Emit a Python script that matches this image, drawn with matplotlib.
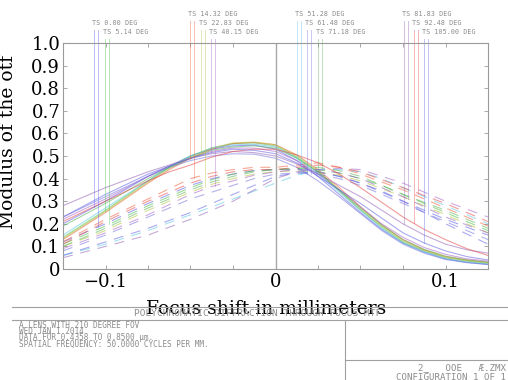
import numpy as np
import matplotlib
matplotlib.use("Agg")
import matplotlib.pyplot as plt
from matplotlib.lines import Line2D

# focus shift samples (mm)
focus = [-0.125, -0.1125, -0.1, -0.0875, -0.075, -0.0625, -0.05, -0.0375, -0.025, -0.0125,
         0.0, 0.0125, 0.025, 0.0375, 0.05, 0.0625, 0.075, 0.0875, 0.1, 0.1125, 0.125]

fields = ["0.00", "5.14", "14.32", "22.83", "40.15", "51.28",
          "61.48", "71.18", "81.83", "92.48", "105.00"]

colors = ["#5a5ae6", "#4cbf4c", "#f0603a", "#b4c43c", "#a864c8", "#5cc8e4",
          "#7474dc", "#5cb45c", "#9464b8", "#e44848", "#6464e6"]

# tangential (solid)
mtf_t = [
    [0.20, 0.25, 0.30, 0.355, 0.41, 0.455, 0.50, 0.53, 0.545, 0.548, 0.53, 0.48, 0.41, 0.33, 0.25, 0.175, 0.115, 0.075, 0.045, 0.03, 0.02],
    [0.14, 0.20, 0.26, 0.325, 0.39, 0.45, 0.50, 0.535, 0.555, 0.558, 0.545, 0.495, 0.43, 0.345, 0.26, 0.185, 0.12, 0.08, 0.05, 0.035, 0.025],
    [0.13, 0.19, 0.25, 0.315, 0.38, 0.44, 0.49, 0.53, 0.555, 0.56, 0.55, 0.505, 0.44, 0.36, 0.275, 0.195, 0.13, 0.085, 0.055, 0.04, 0.03],
    [0.135, 0.195, 0.255, 0.32, 0.385, 0.445, 0.495, 0.535, 0.558, 0.562, 0.55, 0.50, 0.435, 0.35, 0.265, 0.19, 0.125, 0.083, 0.053, 0.038, 0.028],
    [0.22, 0.265, 0.31, 0.36, 0.41, 0.455, 0.49, 0.52, 0.535, 0.535, 0.52, 0.48, 0.42, 0.35, 0.275, 0.20, 0.14, 0.095, 0.065, 0.045, 0.035],
    [0.15, 0.21, 0.27, 0.33, 0.39, 0.45, 0.50, 0.535, 0.55, 0.552, 0.54, 0.49, 0.42, 0.34, 0.26, 0.18, 0.115, 0.075, 0.045, 0.03, 0.022],
    [0.23, 0.275, 0.32, 0.365, 0.41, 0.45, 0.48, 0.50, 0.51, 0.508, 0.49, 0.45, 0.39, 0.32, 0.245, 0.17, 0.11, 0.07, 0.042, 0.028, 0.02],
    [0.19, 0.24, 0.29, 0.345, 0.40, 0.45, 0.49, 0.525, 0.54, 0.545, 0.535, 0.49, 0.43, 0.35, 0.27, 0.195, 0.13, 0.087, 0.057, 0.04, 0.03],
    [0.28, 0.32, 0.36, 0.395, 0.43, 0.46, 0.49, 0.51, 0.52, 0.515, 0.50, 0.465, 0.42, 0.37, 0.32, 0.26, 0.20, 0.15, 0.11, 0.085, 0.07],
    [0.21, 0.255, 0.30, 0.345, 0.39, 0.43, 0.46, 0.495, 0.52, 0.53, 0.53, 0.505, 0.47, 0.42, 0.36, 0.295, 0.23, 0.175, 0.13, 0.09, 0.06],
    [0.23, 0.28, 0.33, 0.375, 0.42, 0.455, 0.49, 0.515, 0.53, 0.525, 0.51, 0.47, 0.41, 0.35, 0.29, 0.225, 0.16, 0.115, 0.08, 0.055, 0.04],
]

# sagittal (dashed)
mtf_s = [
    [0.12, 0.16, 0.20, 0.245, 0.29, 0.33, 0.37, 0.40, 0.42, 0.435, 0.44, 0.44, 0.43, 0.41, 0.38, 0.345, 0.30, 0.26, 0.22, 0.185, 0.15],
    [0.11, 0.15, 0.19, 0.235, 0.28, 0.32, 0.36, 0.395, 0.42, 0.435, 0.44, 0.445, 0.44, 0.425, 0.40, 0.37, 0.33, 0.29, 0.25, 0.21, 0.17],
    [0.12, 0.17, 0.22, 0.265, 0.31, 0.355, 0.40, 0.425, 0.44, 0.45, 0.45, 0.46, 0.47, 0.45, 0.42, 0.385, 0.35, 0.31, 0.27, 0.23, 0.19],
    [0.10, 0.135, 0.17, 0.215, 0.26, 0.30, 0.34, 0.375, 0.40, 0.42, 0.43, 0.435, 0.43, 0.415, 0.39, 0.355, 0.32, 0.28, 0.24, 0.20, 0.16],
    [0.09, 0.125, 0.16, 0.20, 0.24, 0.285, 0.33, 0.365, 0.39, 0.415, 0.43, 0.44, 0.44, 0.445, 0.44, 0.41, 0.38, 0.34, 0.30, 0.265, 0.23],
    [0.06, 0.085, 0.11, 0.14, 0.17, 0.205, 0.24, 0.275, 0.31, 0.345, 0.38, 0.415, 0.44, 0.44, 0.43, 0.40, 0.36, 0.32, 0.28, 0.24, 0.20],
    [0.08, 0.115, 0.15, 0.19, 0.23, 0.27, 0.31, 0.34, 0.37, 0.40, 0.42, 0.425, 0.42, 0.40, 0.37, 0.33, 0.29, 0.25, 0.21, 0.17, 0.13],
    [0.10, 0.14, 0.18, 0.225, 0.27, 0.31, 0.35, 0.385, 0.41, 0.43, 0.44, 0.445, 0.45, 0.435, 0.41, 0.37, 0.33, 0.295, 0.26, 0.22, 0.18],
    [0.05, 0.075, 0.10, 0.125, 0.15, 0.185, 0.22, 0.26, 0.30, 0.35, 0.40, 0.43, 0.44, 0.425, 0.40, 0.36, 0.32, 0.275, 0.23, 0.195, 0.16],
    [0.11, 0.16, 0.21, 0.255, 0.30, 0.34, 0.38, 0.41, 0.43, 0.44, 0.44, 0.45, 0.46, 0.45, 0.43, 0.395, 0.36, 0.325, 0.29, 0.25, 0.21],
    [0.06, 0.09, 0.12, 0.15, 0.18, 0.215, 0.25, 0.29, 0.33, 0.37, 0.41, 0.425, 0.43, 0.41, 0.38, 0.34, 0.30, 0.25, 0.20, 0.155, 0.11],
]

ytick_vals = [0, 0.1, 0.2, 0.3, 0.4, 0.5, 0.6, 0.7, 0.8, 0.9, 1.0]
ytick_labels = ["0", "0.1", "0.2", "0.3", "0.4", "0.5", "0.6", "0.7", "0.8", "0.9", "1.0"]
xtick_vals = [-0.1, 0.0, 0.1]
xtick_labels = ["\u22120.1", "0", "0.1"]

info_lines = ["A LENS WITH 210 DEGREE FOV",
              "WED JAN 1 2014",
              "DATA FOR 0.4358 TO 0.8500 \u00b5m.",
              "SPATIAL FREQUENCY: 50.0000 CYCLES PER MM."]

W, H = 508, 380
GRAY = "#8c8c8c"
MONO = "DejaVu Sans Mono"

# legend label layout (pixel x, row)
label_px = [92, 103, 188, 199, 209, 295, 305, 316, 402, 412, 422]
label_row = [1, 2, 0, 1, 2, 0, 1, 2, 0, 1, 2]


def fx(px):
    return px / W


def fy(py):
    return 1 - py / H


def main():
    fig = plt.figure(figsize=(W / 100, H / 100), dpi=100)
    ax = fig.add_axes([fx(63), fy(269), (488 - 63) / W, (269 - 43) / H])
    ax.set_xlim(-0.125, 0.125)
    ax.set_ylim(0, 1.0)

    for i in range(len(fields)):
        ax.plot(focus, mtf_t[i], color=colors[i], lw=0.8, alpha=0.55)
        ax.plot(focus, mtf_s[i], color=colors[i], lw=0.8, alpha=0.55,
                linestyle=(0, (9, 7)))

    ax.axvline(0, color="#a8a8a8", lw=1.0)

    # field legend: labels above the plot, with T and S marker lines
    inv = ax.transData.inverted()
    for i, name in enumerate(fields):
        ty = 14 + 9 * label_row[i]
        fig.text(fx(label_px[i]), fy(ty), "TS " + name + " DEG", family=MONO,
                 fontsize=4.9, color=GRAY, ha="left", va="center")
        top = inv.transform(fig.transFigure.transform((0, fy(ty + 7))))[1]
        for dx, curve in ((2, mtf_t[i]), (6, mtf_s[i])):
            xd = inv.transform(fig.transFigure.transform((fx(label_px[i] + dx), 0)))[0]
            bottom = np.interp(xd, focus, curve)
            ax.plot([xd, xd], [bottom, top], color=colors[i], lw=0.7,
                    alpha=0.4, clip_on=False)

    for s in ax.spines.values():
        s.set_color("#9a9a9a")
        s.set_linewidth(0.8)

    ax.set_yticks(ytick_vals)
    ax.set_yticklabels(ytick_labels)
    ax.set_xticks(xtick_vals)
    ax.set_xticklabels(xtick_labels)
    ax.set_xticks(np.arange(-0.1, 0.11, 0.025), minor=True)
    ax.tick_params(which="both", direction="in", top=True, right=True,
                   color="#9a9a9a", length=3, width=0.6)
    ax.tick_params(axis="y", labelsize=13, pad=2)
    ax.tick_params(axis="x", labelsize=13, pad=3)
    for lab in ax.get_xticklabels() + ax.get_yticklabels():
        lab.set_family("DejaVu Serif")

    ax.set_ylabel("Modulus of the otf", family="DejaVu Serif", fontsize=13.5)
    ax.yaxis.set_label_coords(-0.108, 0.56)
    ax.set_xlabel("Focus shift in millimeters", family="DejaVu Serif", fontsize=13.5)
    ax.xaxis.set_label_coords(0.479, -0.135)

    # bottom info panel
    lc = "#a0a0a0"
    fig.add_artist(Line2D([fx(12), 1], [fy(307), fy(307)], color=lc, lw=0.8))
    fig.add_artist(Line2D([fx(12), 1], [fy(320), fy(320)], color=lc, lw=0.8))
    fig.add_artist(Line2D([fx(345), fx(345)], [fy(320), 0], color=lc, lw=0.8))
    fig.add_artist(Line2D([fx(345), 1], [fy(360), fy(360)], color=lc, lw=0.8))

    fig.text(fx(258), fy(314), "POLYCHROMATIC DIFFRACTION THROUGH FOCUS MTF",
             family=MONO, fontsize=6.8, color=GRAY, ha="center", va="center")
    for k, line in enumerate(info_lines):
        fig.text(fx(19), fy(326 + 6.0 * k), line, family=MONO, fontsize=5.6,
                 color=GRAY, ha="left", va="center")
    fig.text(fx(506), fy(368), "2_   OOE   \u00c6.ZMX", family=MONO, fontsize=6.6,
             color=GRAY, ha="right", va="center")
    fig.text(fx(506), fy(377), "CONFIGURATION 1 OF 1", family=MONO, fontsize=6.6,
             color=GRAY, ha="right", va="center")

    fig.savefig("out.png", dpi=100)


if __name__ == '__main__':
    main()
